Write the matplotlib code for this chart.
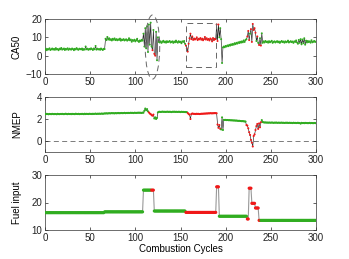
import numpy as np
import matplotlib
matplotlib.use("Agg")
import matplotlib.pyplot as plt
from matplotlib.patches import Ellipse, Rectangle

# ---- data (cycle 0..300) ----
ca50 = [
    3.2, 3.8, 3.0, 3.6, 3.4, 4.0, 3.1, 3.5, 3.9, 3.3,
    3.7, 3.2, 4.1, 3.4, 3.6, 3.0, 3.8, 3.5, 4.2, 3.3,
    3.6, 3.9, 3.1, 3.7, 3.4, 4.0, 3.2, 3.8, 3.5, 3.3,
    3.9, 3.6, 3.0, 3.7, 3.4, 4.1, 3.5, 3.2, 3.8, 3.6,
    3.4, 3.9, 3.1, 3.6, 3.3, 5.0, 3.5, 3.8, 3.2, 3.7,
    3.4, 4.0, 3.6, 3.1, 3.9, 3.5, 5.3, 3.3, 3.8, 3.4,
    3.6, 3.2, 3.9, 3.5, 3.1, 3.7, 3.6, 9.2, 8.5, 10.2,
    8.8, 9.5, 8.6, 9.0, 8.3, 9.2, 8.7, 9.4, 8.5, 9.0,
    8.4, 8.9, 8.6, 9.3, 8.2, 8.8, 8.5, 9.0, 8.3, 8.7,
    8.9, 8.2, 8.6, 9.5, 8.4, 8.8, 7.6, 8.5, 8.1, 8.7,
    7.8, 8.4, 9.2, 8.0, 7.5, 8.3, 7.9, 8.6, 8.2, 12.0,
    5.0, 15.0, 4.0, 16.0, 2.0, 17.0, 6.0, 18.0, 5.0, 3.0,
    14.0, 1.0, 0.0, 13.0, -2.5, 10.0, 7.5, 7.2, 7.8, 7.0,
    7.6, 8.1, 7.3, 7.7, 7.1, 7.9, 7.4, 7.6, 8.0, 7.2,
    7.5, 7.8, 7.0, 7.7, 7.3, 8.2, 7.5, 7.1, 7.9, 7.4,
    7.6, 6.8, 7.8, 7.5, 8.0, 6.5, 5.5, 4.0, 2.2, 6.5,
    9.5, 12.0, 9.0, 10.5, 8.6, 9.4, 8.8, 9.1, 10.0, 8.5,
    9.2, 8.9, 9.6, 8.7, 9.3, 8.4, 9.0, 10.2, 8.8, 9.5,
    8.6, 9.1, 8.3, 9.4, 8.9, 7.8, 9.6, 8.5, 9.2, 9.0,
    17.0, 8.0, 17.0, 10.0, 15.0, 9.0, -4.0, 4.5, 5.0, 4.6,
    5.3, 5.0, 5.6, 5.2, 5.9, 5.5, 6.2, 5.8, 6.4, 6.0,
    6.8, 6.3, 7.0, 6.6, 7.3, 6.9, 7.6, 7.1, 7.8, 7.3,
    8.3, 7.5, 8.5, 9.0, 10.5, 13.5, 8.5, 12.0, 14.5, 7.5,
    17.3, 14.0, 15.0, 12.5, 8.0, 10.5, 7.0, 5.8, 9.5, 5.5,
    12.2, 7.0, 7.8, 7.2, 8.0, 7.4, 7.7, 7.1, 7.9, 7.3,
    7.6, 8.1, 7.0, 7.5, 7.8, 7.2, 7.6, 7.9, 7.3, 7.7,
    7.0, 7.5, 8.0, 7.4, 7.7, 7.1, 7.8, 7.3, 7.6, 8.2,
    7.2, 7.5, 7.9, 7.4, 7.7, 7.0, 7.8, 7.5, 8.3, 7.2,
    6.5, 8.6, 7.0, 9.0, 6.2, 8.8, 6.8, 9.5, 6.0, 8.2,
    7.2, 8.0, 7.4, 7.8, 7.1, 8.4, 7.3, 7.6, 8.0, 7.5,
    7.7,
]
ca50_red = [119, 121, 122] + list(range(156, 193)) + \
    [224, 225, 226, 228, 229, 230, 231, 232, 233, 235, 237, 239]

nmep = [
    2.46, 2.44, 2.47, 2.45, 2.43, 2.46, 2.45, 2.44, 2.47, 2.45,
    2.44, 2.46, 2.45, 2.43, 2.47, 2.45, 2.44, 2.46, 2.45, 2.47,
    2.45, 2.44, 2.46, 2.48, 2.45, 2.44, 2.47, 2.45, 2.46, 2.44,
    2.47, 2.45, 2.46, 2.44, 2.48, 2.46, 2.45, 2.47, 2.44, 2.46,
    2.45, 2.47, 2.46, 2.44, 2.48, 2.45, 2.47, 2.46, 2.45, 2.48,
    2.46, 2.47, 2.45, 2.48, 2.46, 2.47, 2.49, 2.46, 2.48, 2.47,
    2.49, 2.47, 2.48, 2.50, 2.47, 2.49, 2.51, 2.50, 2.52, 2.50,
    2.51, 2.53, 2.51, 2.52, 2.54, 2.52, 2.53, 2.51, 2.54, 2.52,
    2.53, 2.55, 2.52, 2.54, 2.53, 2.55, 2.53, 2.54, 2.56, 2.53,
    2.55, 2.54, 2.56, 2.54, 2.55, 2.57, 2.55, 2.56, 2.54, 2.57,
    2.56, 2.55, 2.57, 2.56, 2.58, 2.56, 2.57, 2.55, 2.58, 2.57,
    2.75, 2.95, 2.80, 2.90, 2.70, 2.60, 2.50, 2.45, 2.35, 2.30,
    2.40, 2.05, 2.15, 2.00, 2.10, 2.60, 2.65, 2.66, 2.64, 2.65,
    2.67, 2.65, 2.66, 2.64, 2.66, 2.65, 2.67, 2.64, 2.66, 2.65,
    2.63, 2.66, 2.65, 2.67, 2.64, 2.66, 2.65, 2.64, 2.66, 2.65,
    2.63, 2.66, 2.64, 2.65, 2.63, 2.64, 2.62, 2.63, 2.55, 2.45,
    2.40, 2.00, 2.45, 2.50, 2.48, 2.46, 2.47, 2.45, 2.48, 2.46,
    2.47, 2.45, 2.46, 2.48, 2.47, 2.49, 2.48, 2.50, 2.49, 2.51,
    2.50, 2.52, 2.51, 2.53, 2.52, 2.51, 2.53, 2.52, 2.54, 2.53,
    2.52, 1.50, 1.20, 1.45, 1.10, 1.05, 2.15, 1.00, 1.92, 1.91,
    1.92, 1.90, 1.91, 1.89, 1.90, 1.88, 1.89, 1.87, 1.88, 1.86,
    1.87, 1.85, 1.86, 1.84, 1.83, 1.84, 1.82, 1.81, 1.80, 1.81,
    1.79, 1.78, 1.77, 1.45, 1.40, 1.15, 0.80, 0.55, 0.10, -0.15,
    -0.50, 0.45, 0.60, 1.00, 1.35, 1.55, 1.10, 1.60, 1.25, 1.70,
    1.90, 1.72, 1.70, 1.68, 1.69, 1.67, 1.68, 1.66, 1.68, 1.67,
    1.66, 1.68, 1.67, 1.65, 1.67, 1.66, 1.68, 1.65, 1.66, 1.67,
    1.65, 1.66, 1.67, 1.65, 1.66, 1.64, 1.66, 1.65, 1.67, 1.64,
    1.65, 1.66, 1.64, 1.65, 1.63, 1.66, 1.64, 1.65, 1.63, 1.64,
    1.66, 1.63, 1.64, 1.58, 1.65, 1.63, 1.64, 1.62, 1.65, 1.63,
    1.64, 1.62, 1.63, 1.65, 1.62, 1.64, 1.63, 1.62, 1.64, 1.63,
    1.62,
]
nmep_red = list(range(115, 121)) + list(range(158, 195)) + list(range(223, 240))

# fuel input is piecewise constant: run lengths and levels
fuel_runs = [66, 43, 12, 35, 34, 3, 31, 2, 3, 4, 4, 64]
fuel_levels = [16.3, 16.6, 24.5, 16.9, 16.4, 25.7, 15.0, 14.0, 25.2, 19.7, 18.0, 13.5]
fuel = np.repeat(fuel_levels, fuel_runs)
fuel_red = [118, 119, 120] + list(range(156, 193)) + list(range(224, 239))

GREEN = "#30ad20"
RED = "#f01818"
DASH = (0, (6, 4))

plt.rcParams["font.family"] = ["Liberation Sans", "DejaVu Sans"]
plt.rcParams["font.size"] = 7

fig = plt.figure(figsize=(3.49, 2.59), dpi=100)
L, W, H = 45 / 349, 271 / 349, 55 / 259
tops = [19, 97, 175]
axes = [fig.add_axes([L, 1 - (t + 55) / 259, W, H]) for t in tops]


def draw(ax, y, red, linecol, lw, ms):
    x = np.arange(len(y))
    y = np.asarray(y, dtype=float)
    cols = np.array([GREEN] * len(y), dtype=object)
    cols[red] = RED
    ax.plot(x, y, color=linecol, lw=lw, zorder=2)
    ax.scatter(x, y, c=list(cols), s=ms, marker="o", linewidths=0, zorder=3)


draw(axes[0], ca50, ca50_red, "#222222", 0.45, 2.0)
draw(axes[1], nmep, nmep_red, "#222222", 0.45, 2.2)
draw(axes[2], fuel, fuel_red, "#999999", 0.8, 5.0)

axes[0].set_ylim(-10, 20)
axes[0].set_yticks([-10, 0, 10, 20])
axes[0].set_ylabel("CA50")
axes[0].add_patch(Ellipse((119, 4.7), 16, 35, fill=False, linestyle=DASH,
                          edgecolor="#666666", lw=0.7, clip_on=False, zorder=4))
axes[0].add_patch(Rectangle((156, -6), 33, 23.6, fill=False, linestyle=DASH,
                            edgecolor="#666666", lw=0.7, zorder=4))

axes[1].set_ylim(-1, 4)
axes[1].set_yticks([0, 2, 4])
axes[1].set_ylabel("NMEP")
axes[1].axhline(0, color="#666666", ls=DASH, lw=0.6, zorder=1)

axes[2].set_ylim(10, 30)
axes[2].set_yticks([10, 20, 30])
axes[2].set_ylabel("Fuel input")
axes[2].set_xlabel("Combustion Cycles", labelpad=1)

for ax in axes:
    ax.set_xlim(0, 300)
    ax.set_xticks(range(0, 301, 50))
    ax.tick_params(direction="in", length=2.5, width=0.5, top=True, right=True,
                   pad=2, colors="#222222")
    for s in ax.spines.values():
        s.set_linewidth(0.5)
        s.set_color("#333333")
    ax.yaxis.set_label_coords(-0.085, 0.5)

fig.savefig("out.png", dpi=100)
